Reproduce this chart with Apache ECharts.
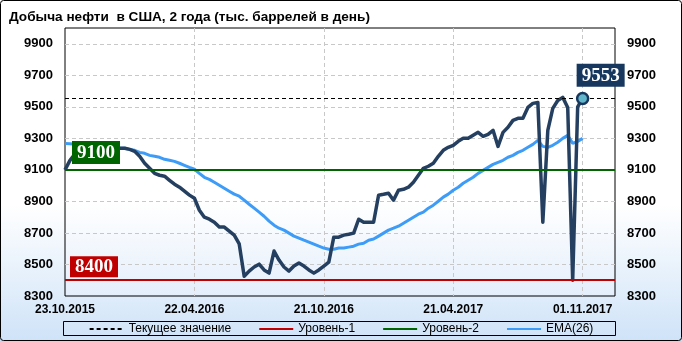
<!DOCTYPE html>
<html><head><meta charset="utf-8">
<script src="https://cdn.jsdelivr.net/npm/echarts@6/dist/echarts.min.js"></script>
<style>html,body{margin:0;padding:0;background:#fff}#c{width:682px;height:341px}</style>
</head><body><div id="c"></div>
<script>
const titleText = 'Добыча нефти  в США, 2 года (тыс. баррелей в день)';
const dateLabels = ['23.10.2015', '22.04.2016', '21.10.2016', '21.04.2017', '01.11.2017'];
const labelStep = 26;
const production = [
  9100, 9160, 9200, 9215, 9225, 9220, 9230, 9235, 9228, 9232,
  9238, 9237, 9237, 9230, 9218, 9186, 9142, 9110, 9078, 9066,
  9060, 9034, 9009, 8990, 8965, 8940, 8920, 8844, 8800, 8787,
  8768, 8737, 8737, 8711, 8686, 8630, 8425, 8458, 8484, 8502,
  8465, 8445, 8585, 8528, 8484, 8458, 8490, 8509, 8490, 8465,
  8445, 8465, 8490, 8515, 8673, 8673, 8686, 8692, 8699, 8787,
  8768, 8768, 8768, 8939, 8945, 8952, 8908, 8971, 8977, 8990,
  9022, 9066, 9110, 9123, 9142, 9186, 9224, 9243, 9256, 9281,
  9300, 9300, 9319, 9338, 9313, 9325, 9351, 9249, 9338, 9370,
  9414, 9427, 9427, 9496, 9522, 9528, 8768, 9351, 9490, 9540,
  9560, 9496, 8400, 9500, 9553
];
const ema26 = [
  9268, 9266, 9263, 9259, 9256, 9253, 9250, 9247, 9244, 9242,
  9240, 9238, 9237, 9230, 9224, 9211, 9205, 9192, 9186, 9180,
  9167, 9161, 9154, 9142, 9129, 9116, 9104, 9078, 9053, 9040,
  9022, 9003, 8984, 8965, 8946, 8933, 8908, 8882, 8857, 8832,
  8806, 8775, 8749, 8730, 8718, 8699, 8680, 8667, 8654, 8642,
  8629, 8616, 8604, 8597, 8597, 8604, 8604, 8610, 8616, 8629,
  8635, 8654, 8661, 8680, 8699, 8718, 8730, 8743, 8762, 8781,
  8800, 8819, 8832, 8857, 8876, 8901, 8927, 8946, 8971, 8990,
  9015, 9034, 9053, 9078, 9097, 9116, 9135, 9148, 9161, 9180,
  9192, 9211, 9224, 9243, 9262, 9287, 9249, 9243, 9256, 9275,
  9300, 9319, 9268, 9281, 9300
];
const level1 = 8400;
const level2 = 9100;
const legendNames = ['Текущее значение', 'Уровень-1', 'Уровень-2', 'EMA(26)'];

const lastIdx = production.length - 1;
const current = production[lastIdx];
const FONT = 'Liberation Sans, Arial, sans-serif';
const SERIF = 'Liberation Serif, Times New Roman, serif';

const chart = echarts.init(document.getElementById('c'), null, {renderer: 'canvas'});
const yAxisBase = {
  type: 'value', min: 8300, max: 10000, interval: 200,
  axisLine: {show: false}, axisTick: {show: false},
  axisLabel: {showMaxLabel: false, color: '#000', fontWeight: 'bold', fontSize: 13, fontFamily: FONT, margin: 12,
    formatter: v => String(v)}
};
chart.setOption({
  animation: false,
  backgroundColor: {type: 'linear', x: 0, y: 0, x2: 0, y2: 1, colorStops: [
    {offset: 0, color: '#ffffff'}, {offset: 0.6, color: '#ffffff'}, {offset: 1, color: '#cfe3f8'}]},
  title: {text: titleText, left: 4, top: 5, textStyle: {fontSize: 13.6, fontWeight: 'bold', color: '#000', fontFamily: FONT}},
  grid: {left: 65, right: 67, top: 28, bottom: 45, show: true, borderColor: '#000', borderWidth: 1,
    backgroundColor: {type: 'linear', x: 0, y: 0, x2: 0, y2: 1, colorStops: [
      {offset: 0, color: '#ffffff'}, {offset: 0.65, color: '#ffffff'}, {offset: 1, color: '#e4eefb'}]}},
  graphic: [
    {type: 'rect', shape: {x: 0.5, y: 0.5, width: 681, height: 340, r: 3}, style: {fill: 'none', stroke: '#000', lineWidth: 1}, silent: true, z: 100},
    {type: 'rect', shape: {x: 63.5, y: 321.5, width: 552, height: 14}, style: {fill: 'none', stroke: '#000', lineWidth: 1}, silent: true, z: 100}
  ],
  legend: {
    data: legendNames, bottom: 6, left: 'center', itemWidth: 34, itemHeight: 4, itemGap: 27,
    itemStyle: {opacity: 0},
    textStyle: {fontSize: 12, color: '#000', fontFamily: FONT}, padding: 0
  },
  xAxis: {
    type: 'value', min: 0, max: 110.5, interval: labelStep,
    axisLine: {show: false}, axisTick: {show: false},
    axisLabel: {showMaxLabel: false, color: '#000', fontWeight: 'bold', fontSize: 12, fontFamily: FONT, margin: 8,
      formatter: v => (v % labelStep === 0 && dateLabels[v / labelStep]) ? dateLabels[v / labelStep] : ''},
    splitLine: {show: true, showMinLine: false, showMaxLine: false, lineStyle: {color: '#c8c8c8', type: [4, 3]}}
  },
  yAxis: [
    Object.assign({}, yAxisBase, {position: 'left',
      splitLine: {show: true, showMinLine: false, showMaxLine: false, lineStyle: {color: '#c8c8c8', type: [4, 3]}}}),
    Object.assign({}, yAxisBase, {position: 'right', splitLine: {show: false}})
  ],
  series: [
    {name: 'Текущее значение', type: 'line', data: [], symbol: 'none', color: '#000',
      lineStyle: {color: '#000', width: 1, type: [4, 3]},
      markLine: {silent: true, symbol: ['none', 'none'], lineStyle: {color: '#000', width: 1, type: [4, 3]},
        label: {show: false}, data: [{yAxis: current}]}},
    {name: 'Уровень-1', type: 'line', data: [], symbol: 'none', color: '#c00000',
      lineStyle: {color: '#c00000', width: 2.5},
      markLine: {silent: true, symbol: ['none', 'none'], lineStyle: {color: '#c00000', width: 2, type: 'solid'},
        label: {show: true, position: 'insideStartTop', distance: [5, 3], formatter: String(level1),
          backgroundColor: '#c00000', color: '#fff', fontFamily: SERIF, fontWeight: 'bold', fontSize: 19, padding: [1, 5, 0, 5], lineHeight: 20},
        data: [{yAxis: level1}]}},
    {name: 'Уровень-2', type: 'line', data: [], symbol: 'none', color: '#006400',
      lineStyle: {color: '#006400', width: 2.5},
      markLine: {silent: true, symbol: ['none', 'none'], lineStyle: {color: '#006400', width: 2, type: 'solid'},
        label: {show: true, position: 'insideStartTop', distance: [7, 6], formatter: String(level2),
          backgroundColor: '#006400', color: '#fff', fontFamily: SERIF, fontWeight: 'bold', fontSize: 19, padding: [2, 5, 1, 5], lineHeight: 20},
        data: [{yAxis: level2}]}},
    {name: 'EMA(26)', type: 'line', data: ema26.map((v, i) => [i, v]), symbol: 'none', color: '#3d9cf7',
      lineStyle: {color: '#3d9cf7', width: 3}, z: 3},
    {name: 'Добыча', type: 'line', data: production.map((v, i) => [i, v]), symbol: 'none', color: '#243f60',
      lineStyle: {color: '#243f60', width: 3.5, join: 'round'}, z: 4},
    {name: 'last', type: 'scatter', data: [[lastIdx, current]], symbol: 'circle', symbolSize: 11, z: 6,
      itemStyle: {color: '#62b6cb', borderColor: '#17375e', borderWidth: 2.5, opacity: 1},
      label: {show: true, position: 'top', distance: 5, offset: [18, 0], formatter: String(current),
        backgroundColor: '#17375e', color: '#fff', fontFamily: SERIF, fontWeight: 'bold', fontSize: 19, padding: [2, 5, 1, 5], lineHeight: 20}}
  ]
});
</script></body></html>
